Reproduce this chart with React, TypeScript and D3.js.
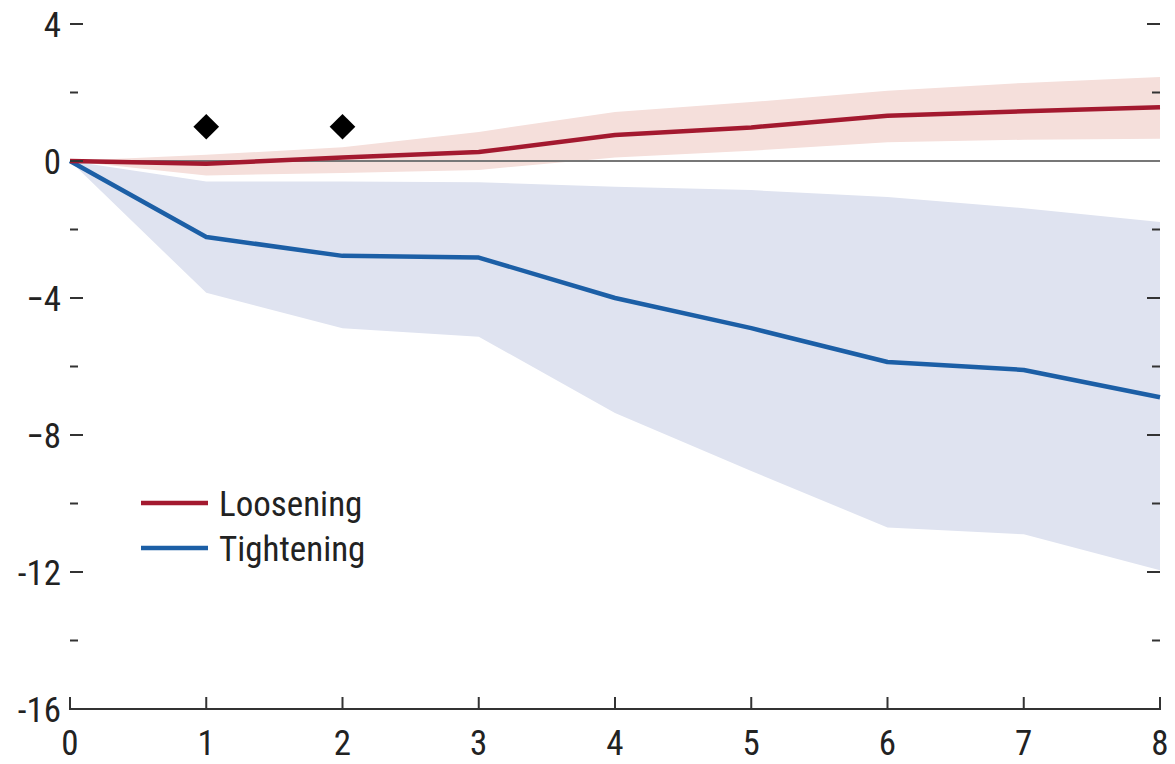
import { useEffect, useRef } from "react";
import * as d3 from "d3";

const W = 1175;
const H = 764;

const steps = [0, 1, 2, 3, 4, 5, 6, 7, 8];

const looseMid = [0, -0.08, 0.1, 0.26, 0.76, 0.98, 1.32, 1.45, 1.57];
const looseHigh = [0, 0.18, 0.4, 0.85, 1.43, 1.72, 2.05, 2.28, 2.45];
const looseLow = [0, -0.42, -0.35, -0.26, 0.1, 0.3, 0.55, 0.62, 0.65];

const tightMid = [0, -2.22, -2.77, -2.82, -4.0, -4.88, -5.87, -6.1, -6.9];
const tightHigh = [0, -0.6, -0.6, -0.62, -0.75, -0.85, -1.05, -1.38, -1.78];
const tightLow = [0, -3.85, -4.88, -5.13, -7.36, -9.05, -10.7, -10.9, -11.95];

const markerSteps = [1, 2];
const markerValue = 1;

const yMajor = [4, 0, -4, -8, -12, -16];
const yMajorLabels = ["4", "0", "\u22124", "\u22128", "-12", "-16"];
const yMinor = [2, -2, -6, -10, -14];
const yRightTicks = [4, 2, -2, -4, -6, -8, -10, -12, -14];

const legendItems = [
  { name: "Loosening", color: "#a3192f" },
  { name: "Tightening", color: "#1c5fa6" },
];

const FONT = "'Liberation Sans Narrow', 'Arial Narrow', 'Roboto Condensed', sans-serif";
const FS = 35;

export default function App() {
  const ref = useRef<SVGSVGElement | null>(null);

  useEffect(() => {
    const svg = d3.select(ref.current);
    svg.selectAll("*").remove();

    const x = d3.scaleLinear().domain([0, 8]).range([70, 1160]);
    const y = d3.scaleLinear().domain([-16, 4]).range([709, 24]);

    const band = (hi: number[], lo: number[]) =>
      d3
        .area<number>()
        .x((d) => x(d))
        .y0((_, i) => y(lo[i]))
        .y1((_, i) => y(hi[i]))(steps);

    const line = (vals: number[]) =>
      d3
        .line<number>()
        .x((d) => x(d))
        .y((_, i) => y(vals[i]))(steps);

    // confidence bands
    svg.append("path").attr("d", band(tightHigh, tightLow)).attr("fill", "#dfe3f0");
    svg.append("path").attr("d", band(looseHigh, looseLow)).attr("fill", "#f5dfdb");

    // zero line
    svg
      .append("line")
      .attr("x1", x(0))
      .attr("x2", x(8))
      .attr("y1", y(0))
      .attr("y2", y(0))
      .attr("stroke", "#777")
      .attr("stroke-width", 2);

    // lines
    svg
      .append("path")
      .attr("d", line(tightMid))
      .attr("fill", "none")
      .attr("stroke", legendItems[1].color)
      .attr("stroke-width", 4.5)
      .attr("stroke-linejoin", "round");
    svg
      .append("path")
      .attr("d", line(looseMid))
      .attr("fill", "none")
      .attr("stroke", legendItems[0].color)
      .attr("stroke-width", 4.5)
      .attr("stroke-linejoin", "round");

    // diamonds
    const diamond = d3.symbol().type(d3.symbolSquare).size(330);
    markerSteps.forEach((s) => {
      svg
        .append("path")
        .attr("d", diamond())
        .attr("transform", `translate(${x(s)},${y(markerValue)}) rotate(45)`)
        .attr("fill", "#000");
    });

    // x axis
    svg
      .append("line")
      .attr("x1", x(0) - 1)
      .attr("x2", x(8) + 1)
      .attr("y1", y(-16))
      .attr("y2", y(-16))
      .attr("stroke", "#333")
      .attr("stroke-width", 2);
    steps.forEach((s) => {
      svg
        .append("line")
        .attr("x1", x(s))
        .attr("x2", x(s))
        .attr("y1", y(-16))
        .attr("y2", y(-16) - 12)
        .attr("stroke", "#333")
        .attr("stroke-width", 2);
      svg
        .append("text")
        .attr("x", x(s))
        .attr("y", 755)
        .attr("text-anchor", "middle")
        .attr("font-family", FONT)
        .attr("font-size", FS)
        .attr("fill", "#222")
        .text(String(s));
    });

    // y ticks left
    yMajor.forEach((v, i) => {
      if (v !== -16) {
        svg
          .append("line")
          .attr("x1", 70)
          .attr("x2", 83)
          .attr("y1", y(v))
          .attr("y2", y(v))
          .attr("stroke", "#333")
          .attr("stroke-width", 2);
      }
      svg
        .append("text")
        .attr("x", 61)
        .attr("y", y(v) + 12.5)
        .attr("text-anchor", "end")
        .attr("font-family", FONT)
        .attr("font-size", FS)
        .attr("fill", "#222")
        .text(yMajorLabels[i]);
    });
    yMinor.forEach((v) => {
      svg
        .append("line")
        .attr("x1", 70)
        .attr("x2", 78)
        .attr("y1", y(v))
        .attr("y2", y(v))
        .attr("stroke", "#333")
        .attr("stroke-width", 2);
    });

    // y ticks right
    yRightTicks.forEach((v) => {
      const major = v % 4 === 0;
      svg
        .append("line")
        .attr("x1", major ? 1147 : 1152)
        .attr("x2", 1160)
        .attr("y1", y(v))
        .attr("y2", y(v))
        .attr("stroke", "#333")
        .attr("stroke-width", 2);
    });
    svg
      .append("line")
      .attr("x1", 1160)
      .attr("x2", 1160)
      .attr("y1", y(-16))
      .attr("y2", y(-16) - 12)
      .attr("stroke", "#333")
      .attr("stroke-width", 2);

    // legend
    legendItems.forEach((item, i) => {
      const ly = 503 + i * 45;
      svg
        .append("line")
        .attr("x1", 141)
        .attr("x2", 208)
        .attr("y1", ly)
        .attr("y2", ly)
        .attr("stroke", item.color)
        .attr("stroke-width", 4.5);
      svg
        .append("text")
        .attr("x", 219)
        .attr("y", ly + 12.5)
        .attr("font-family", FONT)
        .attr("font-size", FS)
        .attr("fill", "#222")
        .text(item.name);
    });
  }, []);

  return (
    <svg
      ref={ref}
      width={W}
      height={H}
      style={{ position: "absolute", left: 0, top: 0, background: "#fff" }}
    />
  );
}
